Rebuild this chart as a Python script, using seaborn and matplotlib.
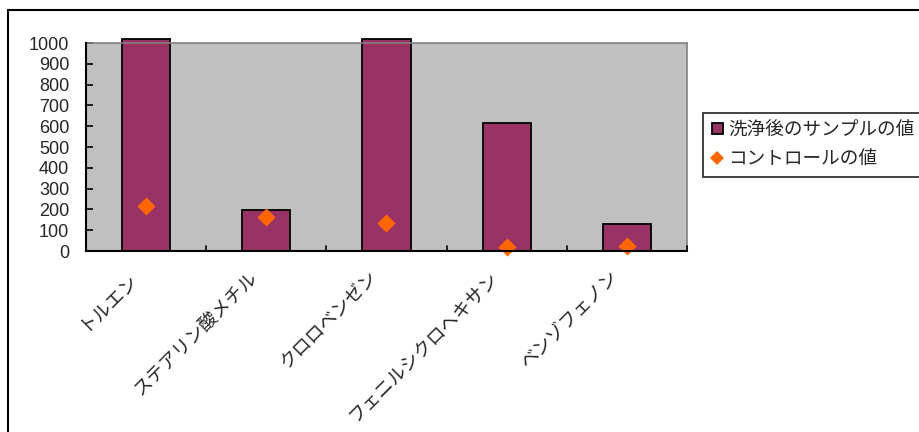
import matplotlib
matplotlib.use("Agg")
import matplotlib.pyplot as plt
import matplotlib.transforms as mtransforms
import seaborn as sns
import pandas as pd
from matplotlib.patches import Rectangle, Patch
from matplotlib.lines import Line2D

categories = ["トルエン", "ステアリン酸メチル", "クロロベンゼン", "フェニルシクロヘキサン", "ベンゾフェノン"]
sample_values = [1020, 195, 1020, 615, 130]
control_values = [218, 165, 135, 19, 25]
series_names = ["洗浄後のサンプルの値", "コントロールの値"]
y_ticks = [0, 100, 200, 300, 400, 500, 600, 700, 800, 900, 1000]

sns.set_theme(style="white")
plt.rcParams['font.family'] = ['Liberation Sans', 'Noto Sans CJK JP', 'DejaVu Sans']

df = pd.DataFrame({"cat": categories, "sample": sample_values, "control": control_values})

fig = plt.figure(figsize=(9.2, 4.32), dpi=100)
fig.patch.set_facecolor("white")
# outer chart frame
fig.patches.append(Rectangle((8/920, -0.1), 1.2, 1 - 10/432 + 0.1, transform=fig.transFigure,
                             fill=False, edgecolor="black", linewidth=1.5, zorder=0))

ax = fig.add_axes([86/920, 1 - 251/432, 601/920, 208/432])
ax.set_facecolor("#C0C0C0")

sns.barplot(data=df, x="cat", y="sample", color="#993366", width=0.4, edgecolor="black",
            linewidth=1.3, saturation=1, ax=ax, zorder=2)
for p in ax.patches:
    p.set_clip_on(False)

ax.scatter(range(len(categories)), df["control"], marker="D", s=85, color="#FF6600",
           zorder=4, clip_on=False, linewidths=0)

ax.set_xlim(-0.5, len(categories) - 0.5)
ax.set_ylim(0, 1000)
ax.set_yticks(y_ticks)
ax.set_yticklabels([str(v) for v in y_ticks], fontsize=13)
ax.set_xlabel("")
ax.set_ylabel("")

ax.set_xticks(range(len(categories)))
ax.set_xticklabels(categories, rotation=45, ha="right", va="top", rotation_mode="anchor", fontsize=13.3)
ax.tick_params(axis="x", length=0, pad=13)
shift = mtransforms.ScaledTranslation(-17/100, 0, fig.dpi_scale_trans)
for lab in ax.get_xticklabels():
    lab.set_transform(lab.get_transform() + shift)
for b in [0.5, 1.5, 2.5, 3.5, 4.5]:
    ax.plot([b, b], [0, 23], color="black", linewidth=1.2, clip_on=False, zorder=3)
ax.tick_params(axis="y", direction="in", length=5, width=1.2, color="black", pad=12, left=True)

for side in ["top", "right"]:
    ax.spines[side].set_color("#808080")
    ax.spines[side].set_linewidth(1.2)
for side in ["left", "bottom"]:
    ax.spines[side].set_color("black")
    ax.spines[side].set_linewidth(1.5)
    ax.spines[side].set_zorder(5)

handles = [Patch(facecolor="#993366", edgecolor="black", linewidth=1.3),
           Line2D([], [], marker="D", linestyle="none", color="#FF6600", markersize=7.5, markeredgewidth=0)]
leg = fig.legend(handles, series_names, loc="upper left", bbox_to_anchor=(703/920, 1 - 113/432),
                 borderaxespad=0, frameon=True, fancybox=False, edgecolor="black", fontsize=13.4,
                 handlelength=0.55, handleheight=0.55, handletextpad=0.3, borderpad=0.5,
                 labelspacing=0.62)
leg.get_frame().set_linewidth(1.3)

fig.savefig("out.png", dpi=100)
